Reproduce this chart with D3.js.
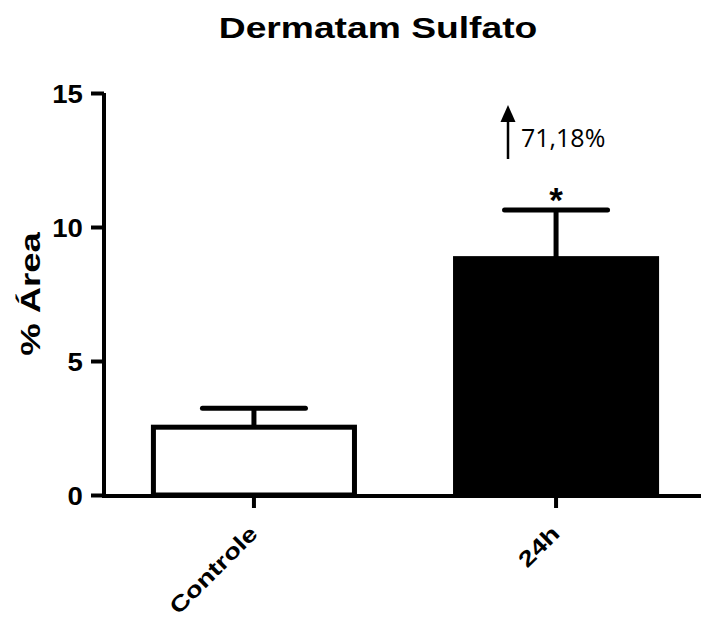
<!DOCTYPE html>
<html>
<head>
<meta charset="utf-8">
<script src="https://cdn.jsdelivr.net/npm/d3@7"></script>
<style>
  body { margin: 0; background: #fff; }
  svg { display: block; }
</style>
</head>
<body>
<svg id="chart"></svg>
<script>
// Chart data
var groups = ["Controle", "24h"];
var means = [2.53, 8.82];
var sems = [0.71, 1.81];
var fills = ["#ffffff", "#000000"];
var yTicks = [0, 5, 10, 15];
var increaseLabel = "71,18%";

var width = 701, height = 619;
var boldFont = "Liberation Sans, Arial, sans-serif";

var svg = d3.select("#chart")
    .attr("width", width)
    .attr("height", height);

var x = d3.scaleBand()
    .domain(groups)
    .range([105, 705])
    .paddingInner(0.318)
    .paddingOuter(0.152);

var y = d3.scaleLinear()
    .domain([0, 15])
    .range([495, 93]);

// Title (the original font is wider than Arial, so stretch it)
svg.append("text")
    .attr("transform", "translate(378,38) scale(1.33,1.05)")
    .attr("text-anchor", "middle")
    .style("font-family", boldFont)
    .style("font-weight", "bold")
    .style("font-size", "28px")
    .text("Dermatam Sulfato");

// Y axis label
svg.append("text")
    .attr("transform", "translate(40,294) rotate(-90) scale(1.35,1)")
    .attr("text-anchor", "middle")
    .style("font-family", boldFont)
    .style("font-weight", "bold")
    .style("font-size", "27px")
    .text("% Área");

// Bars
var bw = x.bandwidth();
svg.selectAll(".bar")
    .data(groups)
    .enter()
    .append("rect")
    .attr("class", "bar")
    .attr("x", function(d) { return x(d) + 2.5; })
    .attr("y", function(d, i) { return y(means[i]); })
    .attr("width", bw - 5)
    .attr("height", function(d, i) { return y(0) - y(means[i]); })
    .attr("fill", function(d, i) { return fills[i]; })
    .attr("stroke", "#000")
    .attr("stroke-width", 5);

// Error bars (upper only)
var capW = 103;
svg.selectAll(".err")
    .data(groups)
    .enter()
    .append("line")
    .attr("class", "err")
    .attr("x1", function(d) { return x(d) + bw / 2; })
    .attr("x2", function(d) { return x(d) + bw / 2; })
    .attr("y1", function(d, i) { return y(means[i]); })
    .attr("y2", function(d, i) { return y(means[i] + sems[i]); })
    .attr("stroke", "#000")
    .attr("stroke-width", 5);

svg.selectAll(".cap")
    .data(groups)
    .enter()
    .append("line")
    .attr("class", "cap")
    .attr("x1", function(d) { return x(d) + bw / 2 - capW / 2; })
    .attr("x2", function(d) { return x(d) + bw / 2 + capW / 2; })
    .attr("y1", function(d, i) { return y(means[i] + sems[i]); })
    .attr("y2", function(d, i) { return y(means[i] + sems[i]); })
    .attr("stroke", "#000")
    .attr("stroke-width", 5)
    .attr("stroke-linecap", "round");

// Y axis
var yAxis = svg.append("g")
    .attr("transform", "translate(104,0)")
    .call(d3.axisLeft(y).tickValues(yTicks).tickSize(13).tickPadding(7).tickSizeOuter(0));
yAxis.select(".domain").attr("stroke-width", 4).attr("d", "M0," + (y(0) + 2) + "V" + y(15));
yAxis.selectAll(".tick line").attr("stroke-width", 4);
yAxis.selectAll(".tick text")
    .style("font-family", boldFont)
    .style("font-weight", "bold")
    .style("font-size", "26px")
    .attr("transform", "scale(1.06,1)")
    .attr("dy", "0.36em");

// X axis
var xAxis = svg.append("g")
    .attr("transform", "translate(0,496)")
    .call(d3.axisBottom(x).tickSize(12).tickSizeOuter(0));
xAxis.select(".domain").attr("stroke-width", 4).attr("d", "M102,0H701");
xAxis.selectAll(".tick line").attr("stroke-width", 4);
xAxis.selectAll(".tick text")
    .style("font-family", boldFont)
    .style("font-weight", "bold")
    .style("font-size", "22px")
    .attr("text-anchor", "end")
    .attr("transform", "translate(5,39) rotate(-45) scale(1.26,1)")
    .attr("dy", 0)
    .attr("y", 0)
    .attr("x", 0);

// Significance asterisk
svg.append("text")
    .attr("x", x("24h") + bw / 2)
    .attr("y", y(means[1] + sems[1]) + 2)
    .attr("text-anchor", "middle")
    .style("font-family", boldFont)
    .style("font-weight", "bold")
    .style("font-size", "35px")
    .text("*");

// Increase annotation: arrow and percentage
var ax = 508;
svg.append("line")
    .attr("x1", ax).attr("x2", ax)
    .attr("y1", 159).attr("y2", 120)
    .attr("stroke", "#000")
    .attr("stroke-width", 2.5);

svg.append("path")
    .attr("d", d3.line()([[ax - 7.5, 122], [ax, 105], [ax + 7.5, 122]]) + "Z")
    .attr("fill", "#000");

svg.append("text")
    .attr("x", 521)
    .attr("y", 147)
    .style("font-family", "Open Sans, Lato, sans-serif")
    .style("font-size", "25px")
    .text(increaseLabel);
</script>
</body>
</html>
